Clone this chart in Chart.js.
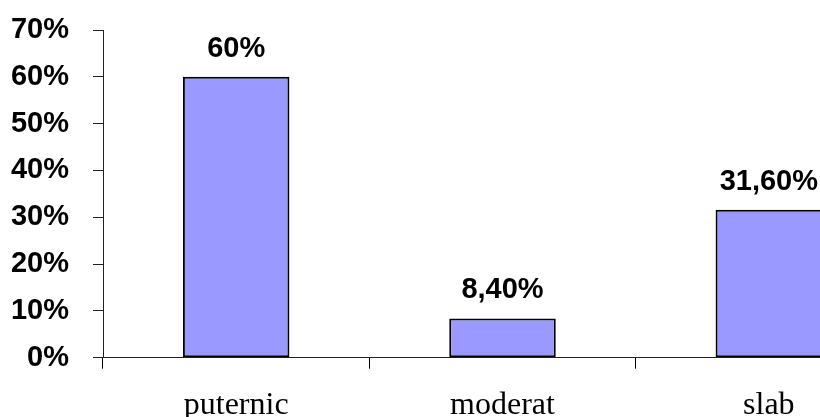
<!DOCTYPE html>
<html>
<head>
<meta charset="utf-8">
<script src="https://cdn.jsdelivr.net/npm/chart.js@4/dist/chart.umd.min.js"></script>
<style>
  html, body { margin: 0; padding: 0; background: #fff; overflow: hidden; }
  #wrap { width: 820px; height: 417px; overflow: hidden; }
  canvas { display: block; }
</style>
</head>
<body>
<div id="wrap"><canvas id="c" width="920" height="417"></canvas></div>
<script>
// Distribution of responses by intensity
const categories = ['puternic', 'moderat', 'slab'];
const values = [60, 8.4, 31.6];
const yTicks = [0, 10, 20, 30, 40, 50, 60, 70];

function pct(v) {
  return Number.isInteger(v) ? v + '%' : v.toFixed(2).replace('.', ',') + '%';
}

// Value labels above each bar
const valueLabels = {
  id: 'valueLabels',
  afterDatasetsDraw(chart) {
    const ctx = chart.ctx;
    const meta = chart.getDatasetMeta(0);
    ctx.save();
    ctx.font = 'bold 29px "Liberation Sans", Arial, sans-serif';
    ctx.fillStyle = '#000';
    ctx.textAlign = 'center';
    ctx.textBaseline = 'alphabetic';
    meta.data.forEach((bar, i) => {
      ctx.fillText(pct(values[i]), bar.x, bar.y - 20);
    });
    ctx.restore();
  }
};

new Chart(document.getElementById('c'), {
  type: 'bar',
  data: {
    labels: categories,
    datasets: [{
      data: values,
      backgroundColor: '#9999FF',
      borderColor: '#000000',
      borderWidth: 2,
      borderSkipped: false,
      barPercentage: 0.4,
      categoryPercentage: 1.0
    }]
  },
  options: {
    responsive: false,
    animation: false,
    events: [],
    layout: { autoPadding: false, padding: { top: 30, right: 18, bottom: 0, left: 0 } },
    plugins: {
      legend: { display: false },
      tooltip: { enabled: false }
    },
    scales: {
      x: {
        offset: true,
        grid: {
          display: true,
          drawOnChartArea: false,
          drawTicks: true,
          tickLength: 11,
          color: '#000',
          lineWidth: 1
        },
        border: { display: true, color: '#222', width: 1 },
        ticks: {
          color: '#000',
          padding: 18,
          font: { family: '"Liberation Serif", "Times New Roman", serif', size: 32 }
        },
        afterFit(scale) {
          scale.height = 59.3;
          scale.paddingLeft = 0;
          scale.paddingRight = 0;
        }
      },
      y: {
        min: 0,
        max: 70,
        afterBuildTicks(scale) { scale.ticks = yTicks.map(v => ({ value: v })); },
        grid: {
          display: true,
          drawOnChartArea: false,
          drawTicks: true,
          tickLength: 10,
          color: '#222',
          lineWidth: 1
        },
        border: { display: true, color: '#222', width: 1 },
        ticks: {
          color: '#000',
          padding: 24,
          font: { family: '"Liberation Sans", Arial, sans-serif', size: 29, weight: 'bold' },
          callback: v => v + '%'
        },
        afterFit(scale) {
          scale.width = 103;
          scale.paddingTop = 0;
          scale.paddingBottom = 0;
        }
      }
    }
  },
  plugins: [valueLabels]
});
</script>
</body>
</html>
